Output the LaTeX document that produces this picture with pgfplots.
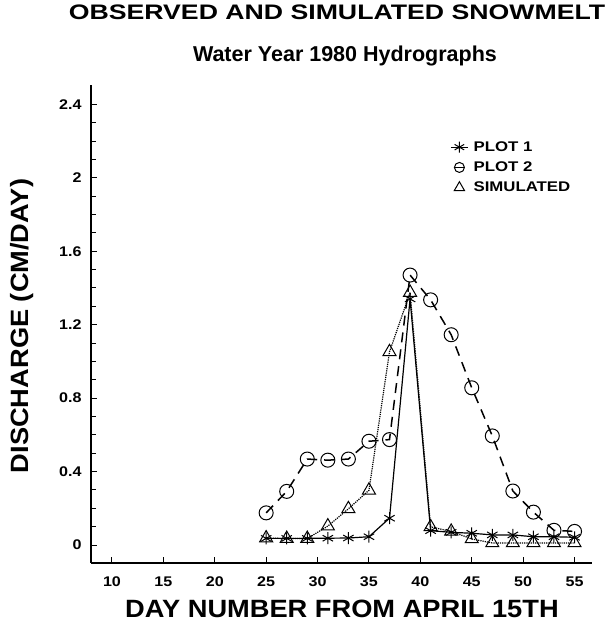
\documentclass[border=0pt]{standalone}
\usepackage{fontspec}
\setmainfont{Liberation Sans}
\newfontfamily\titlefont[FakeStretch=1.27]{Liberation Sans}
\newfontfamily\labelfont[FakeStretch=1.09]{Liberation Sans}
\newfontfamily\legfont[FakeStretch=1.2]{Liberation Sans}
\newfontfamily\tickfont[FakeStretch=1.15]{Liberation Sans}
\usepackage{pgfplots}
\pgfplotsset{compat=1.18}

\pgfplotsset{
  leg one/.style={legend image code/.code={%
    \draw[##1, mark repeat=2, mark phase=2, mark size=5.5pt]
      plot coordinates {(0cm,0cm)(0.3cm,0cm)(0.6cm,0cm)};}},
  leg two/.style={legend image code/.code={%
    \draw[##1, solid, mark repeat=2, mark phase=2, mark size=5pt]
      plot coordinates {(0.13cm,0cm)(0.3cm,0cm)(0.47cm,0cm)};}},
  leg sim/.style={legend image code/.code={%
    \path (0cm,0cm) (0.6cm,0cm);
    \draw[##1, mark size=6pt] plot coordinates {(0.3cm,0cm)};}},
}

% day number, discharge (cm/day)
\pgfplotstableread{
day q
25 0.036
27 0.036
29 0.036
31 0.037
33 0.038
35 0.045
37 0.146
39 1.34
41 0.078
43 0.069
45 0.064
47 0.055
49 0.055
51 0.045
53 0.045
55 0.042
}\plotone
\pgfplotstableread{
day q
25 0.175
27 0.292
29 0.468
31 0.462
33 0.468
35 0.565
37 0.574
39 1.47
41 1.335
43 1.145
45 0.856
47 0.594
49 0.294
51 0.179
53 0.080
55 0.074
}\plottwo
\pgfplotstableread{
day q
25 0.038
27 0.035
29 0.035
31 0.103
33 0.197
35 0.298
37 1.052
39 1.375
41 0.099
43 0.074
45 0.033
47 0.011
49 0.011
51 0.011
53 0.011
55 0.011
}\simulated

\begin{document}
\begin{tikzpicture}
\useasboundingbox (0,0) rectangle (612pt,626pt);
\begin{axis}[
  at={(91pt,63pt)}, anchor=south west,
  scale only axis, width=501pt, height=478pt,
  xmin=7.96, xmax=56.7, ymin=-0.098, ymax=2.505,
  axis lines*=left, axis line style={-, line width=1.3pt},
  xtick={10,15,...,55},
  xticklabels={10,15,20,25,30,35,40,45,50,55},
  ytick={0,0.4,0.8,1.2,1.6,2,2.4},
  yticklabels={0,0.4,0.8,1.2,1.6,2,2.4},
  minor ytick={0.1,0.2,0.3,0.5,0.6,0.7,0.9,1.0,1.1,1.3,1.4,1.5,1.7,1.8,1.9,2.1,2.2,2.3},
  tick align=inside, major tick length=6pt, minor tick length=5pt,
  tick style={black, line width=1pt},
  /pgf/number format/assume math mode=true,
  ticklabel style={font=\tickfont\bfseries\fontsize{14}{16}\selectfont},
  yticklabel style={xshift=-6pt},
  xticklabel style={yshift=-10pt},
  clip=false,
  legend cell align=left,
  legend style={draw=none, fill=none, at={(axis cs:42.6,2.22)}, anchor=north west,
    font=\legfont\bfseries\fontsize{14}{16}\selectfont, row sep=5pt, column sep=3pt},
]
\addplot[black, line width=1.2pt, mark=asterisk, mark size=6pt,
  mark options={line width=1pt}, leg one]
  table[x=day, y=q] {\plotone};
\addlegendentry{PLOT 1}
\addplot[black, line width=1.5pt, dash pattern=on 10pt off 7pt, mark=o,
  mark size=7pt, mark options={solid, line width=1pt}, leg two]
  table[x=day, y=q] {\plottwo};
\addlegendentry{PLOT 2}
\addplot[black, line width=1.2pt, densely dotted, mark=triangle, mark size=7.5pt,
  mark options={solid, line width=1pt}, leg sim]
  table[x=day, y=q] {\simulated};
\addlegendentry{SIMULATED}
\end{axis}
\node at (337pt,614pt) {\titlefont\bfseries\fontsize{21}{24}\selectfont OBSERVED AND SIMULATED SNOWMELT};
\node at (345pt,570pt) {\bfseries\fontsize{21.5}{24}\selectfont Water Year 1980 Hydrographs};
\node at (342pt,17pt) {\labelfont\bfseries\fontsize{25}{28}\selectfont DAY NUMBER FROM APRIL 15TH};
\node[rotate=90] at (22pt,300pt) {\labelfont\bfseries\fontsize{25}{28}\selectfont DISCHARGE (CM/DAY)};
\end{tikzpicture}
\end{document}
